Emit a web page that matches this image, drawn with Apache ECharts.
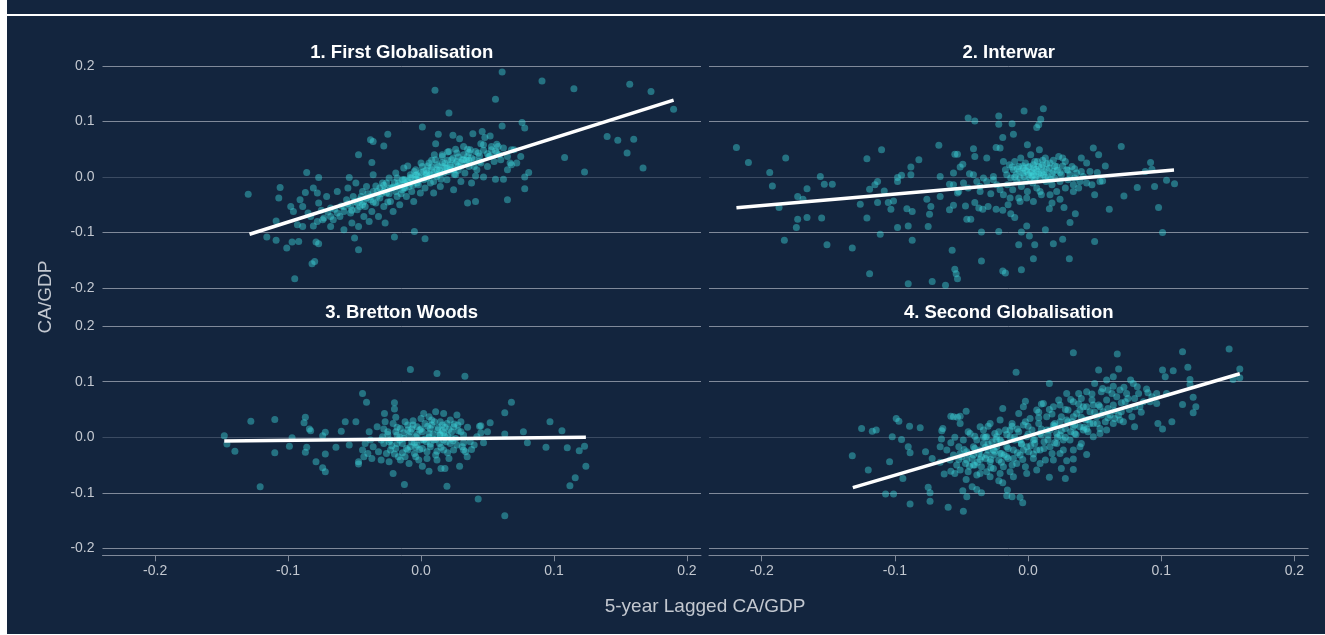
<!DOCTYPE html>
<html>
<head>
<meta charset="utf-8">
<script src="https://cdn.jsdelivr.net/npm/echarts@6/dist/echarts.min.js"></script>
<style>
  html, body { margin: 0; padding: 0; background: #ffffff; }
  #panel { position: absolute; left: 7px; top: 0; width: 1318px; height: 634px; background: #13253e; }
  #rule { position: absolute; left: 7px; top: 14px; width: 1318px; height: 2px; background: #ffffff; }
  #chart { position: absolute; left: 0; top: 0; width: 1325px; height: 635px; }
</style>
</head>
<body>
<div id="panel"></div>
<div id="rule"></div>
<div id="chart"></div>
<script>
// Current account / GDP against its own 5-year lag, by era: [lagged CA/GDP, CA/GDP]
const firstGlobalisation = [
  [-0.130,-0.031],[0.061,0.189],[0.0105,0.156],[0.091,0.173],[0.115,0.159],[0.157,0.167],[0.173,0.154],[0.190,0.122],
  [0.056,0.140],[0.021,0.115],[0.001,0.090],[0.076,0.098],[0.078,0.088],[0.061,0.092],[0.140,0.073],[0.148,0.066],
  [0.160,0.068],[0.155,0.043],[0.108,0.035],[0.123,0.009],[0.167,0.016],[0.081,0.008],[0.078,0.000],[0.078,-0.021],
  [0.065,-0.041],[0.041,-0.044],[0.035,-0.047],[0.003,-0.111],[-0.005,-0.098],[-0.020,-0.108],[-0.047,-0.131],[-0.050,-0.110],
  [-0.077,-0.120],[-0.079,-0.117],[-0.092,-0.116],[-0.097,-0.117],[-0.101,-0.128],[-0.109,-0.114],[-0.116,-0.108],[-0.095,-0.183],
  [-0.082,-0.156],[-0.080,-0.152],[-0.109,-0.079],[-0.107,-0.038],[-0.106,-0.019],[-0.086,0.008],[-0.077,-0.001],[-0.047,0.040],
  [-0.038,0.067],[-0.036,0.064],[-0.028,0.056],[-0.025,0.077],[-0.037,0.026],[-0.054,-0.001],[0.013,0.077],[0.011,0.060],
  [0.024,0.075],[0.029,0.069],[0.046,0.082],[0.052,0.074],[0.048,0.071],[0.039,0.078],[0.057,0.059],[0.062,-0.004],
  [0.056,-0.004],[0.047,0.000],[0.041,0.002],[0.070,0.049],[0.075,0.037],[0.068,0.022],[0.065,0.013],[0.072,0.025],
  [-0.098,-0.053],[-0.096,-0.062],[-0.091,-0.041],[-0.089,-0.053],[-0.087,-0.028],[-0.081,-0.020],[-0.078,-0.029],[-0.077,-0.047],
  [-0.083,-0.071],[-0.093,-0.086],[-0.089,-0.089],[-0.081,-0.088],[-0.074,-0.077],[-0.071,-0.035],[-0.068,-0.056],[-0.068,-0.089],
  [-0.066,-0.077],[-0.063,-0.026],[-0.061,-0.071],[-0.058,-0.095],[-0.058,-0.053],[-0.056,-0.041],[-0.055,-0.020],[-0.053,-0.065],
  [-0.052,-0.083],[-0.049,-0.011],[-0.048,-0.059],[-0.047,-0.089],[-0.046,-0.041],[-0.044,-0.026],[-0.043,-0.071],[-0.042,-0.053],
  [-0.041,-0.017],[-0.039,-0.080],[-0.038,-0.035],[-0.037,-0.062],[-0.036,0.004],[-0.034,-0.047],[-0.033,-0.026],[-0.032,-0.071],
  [-0.031,-0.038],[-0.029,-0.011],[-0.028,-0.053],[-0.027,-0.083],[-0.026,-0.029],[-0.024,-0.002],[-0.023,-0.044],[-0.022,-0.020],
  [-0.021,-0.062],[-0.019,0.007],[-0.018,-0.035],[-0.017,-0.011],[-0.016,-0.050],[-0.014,-0.023],[-0.013,0.016],[-0.012,-0.005],
  [-0.011,-0.035],[-0.009,-0.017],[-0.008,0.004],[-0.007,-0.026],[-0.0055,-0.044],[-0.004,0.013],[-0.003,-0.011],[-0.002,0.001],
  [-0.0005,-0.029],[0.001,0.019],[0.002,-0.005],[0.003,-0.020],[0.0045,0.007],[0.006,0.025],[0.007,-0.011],[0.008,0.013],
  [0.0095,-0.029],[0.011,0.031],[0.012,0.001],[0.013,0.019],[0.0145,-0.017],[0.016,0.037],[0.017,0.007],[0.018,0.025],
  [0.0195,-0.005],[0.021,0.046],[0.022,0.013],[0.023,0.031],[0.0245,-0.023],[0.026,0.004],[0.027,0.043],[0.028,0.019],
  [0.030,-0.008],[0.031,0.031],[0.032,0.055],[0.033,0.007],[0.035,0.037],[0.036,0.019],[0.037,0.049],[0.038,-0.011],
  [0.040,0.031],[0.042,0.013],[0.043,0.043],[0.045,0.025],[0.047,0.058],[0.050,0.019],[0.051,0.037],[0.053,0.049],
  [0.055,0.028],[0.057,0.043],[0.060,0.031],[0.062,0.052],[0.065,0.037],[0.067,0.025],[0.068,0.049],
  [-0.013,-0.005],[-0.008,-0.011],[-0.003,0.004],[0.002,0.010],[0.007,0.004],[0.012,0.013],[0.017,0.019],[0.022,0.022],
  [0.027,0.028],[0.032,0.031],[-0.023,-0.020],[-0.018,-0.017],[-0.028,-0.026],[-0.033,-0.035],[-0.038,-0.041],[-0.043,-0.044],
  [-0.048,-0.047],[-0.053,-0.053],[-0.058,-0.062],[-0.063,-0.065],[-0.068,-0.071],[-0.073,-0.074],[-0.078,-0.080],[-0.007,-0.002],
  [-0.002,-0.014],[0.0045,-0.002],[0.0095,-0.008],[0.0145,0.007],[0.0195,0.016],[0.0245,0.013],[0.030,0.019],[0.035,0.025],
  [0.040,0.019],[-0.018,-0.002],[-0.013,-0.020],[-0.026,-0.011],[-0.031,-0.020],[-0.036,-0.026],[-0.041,-0.038],[-0.046,-0.053],
  [-0.051,-0.035],
  [-0.030,-0.030],[-0.027,-0.022],[-0.024,-0.030],[-0.021,-0.018],[-0.019,-0.026],[-0.016,-0.014],[-0.014,-0.005],[-0.012,-0.020],
  [-0.010,-0.008],[-0.008,-0.001],[-0.006,-0.015],[-0.004,0.003],[-0.002,-0.006],[0.000,0.008],[0.002,-0.002],[0.004,0.012],
  [0.006,0.002],[0.008,0.018],[0.010,0.008],[0.012,0.022],[0.014,0.012],[0.016,0.026],[0.018,0.016],[0.020,0.030],
  [0.022,0.018],[0.024,0.034],[0.026,0.024],[0.028,0.036],[0.030,0.026],[0.032,0.040],[0.034,0.030],[0.036,0.044],
  [0.038,0.034],[0.041,0.046],[0.044,0.038],[0.047,0.048],[0.050,0.042],[0.053,0.055],[0.056,0.047],[0.059,0.040],
  [-0.034,-0.016],[-0.040,-0.030],[-0.045,-0.035],[-0.050,-0.044],[-0.055,-0.048],[-0.060,-0.052],[-0.065,-0.058],[-0.070,-0.063],
  [-0.075,-0.060],[-0.085,-0.065],[0.015,-0.004],[0.025,0.005],[0.005,0.020],[-0.005,0.010],[-0.015,-0.030],[0.035,0.050],
  [0.045,0.060],[0.020,0.045],[0.010,0.040],[-0.025,-0.045],
  [-0.028,-0.015],[-0.020,-0.010],[-0.012,-0.012],[-0.004,-0.004],[0.004,0.004],[0.012,0.004],[0.020,0.010],[0.028,0.012],
  [0.036,0.030],[0.044,0.028],[0.052,0.038],[0.058,0.055],[-0.036,-0.045],[-0.044,-0.050],[-0.052,-0.060],[0.000,0.025],
  [0.008,0.030],[0.016,0.040],[0.026,0.050],[-0.010,0.020]
];

const interwar = [
  [-0.219,0.053],[-0.210,0.026],[-0.194,0.008],[-0.192,-0.016],[-0.187,-0.055],[-0.182,0.034],[-0.183,-0.114],[-0.173,-0.076],
  [-0.174,-0.091],[-0.173,-0.035],[-0.169,-0.040],[-0.166,-0.021],[-0.166,-0.073],[-0.156,0.001],[-0.155,-0.074],[-0.153,-0.013],
  [-0.147,-0.013],[-0.151,-0.122],[-0.132,-0.128],[-0.126,-0.049],[-0.121,0.033],[-0.121,-0.074],[-0.119,-0.174],[-0.119,-0.022],
  [-0.115,-0.014],[-0.113,-0.008],[-0.113,-0.046],[-0.111,-0.103],[-0.110,0.049],[-0.108,-0.025],[-0.105,-0.046],[-0.103,-0.058],
  [-0.101,-0.043],[-0.098,-0.001],[-0.098,-0.008],[-0.098,-0.091],[-0.095,0.003],[-0.091,-0.057],[-0.090,-0.088],[-0.090,-0.192],
  [-0.088,0.018],[-0.088,0.004],[-0.087,-0.062],[-0.087,-0.114],[-0.082,0.031],[-0.076,-0.040],[-0.075,-0.089],[-0.074,-0.067],
  [-0.073,-0.053],[-0.072,-0.188],[-0.067,0.057],[-0.066,0.001],[-0.066,-0.035],[-0.062,-0.195],[-0.059,-0.059],[-0.057,-0.132],
  [-0.056,-0.051],[-0.056,0.007],[-0.055,-0.166],[-0.054,-0.174],[-0.053,-0.183],[-0.059,-0.013],[-0.055,0.041],[-0.053,0.041],
  [-0.051,0.018],[-0.053,-0.029],[-0.049,0.023],[-0.047,-0.052],[-0.046,-0.076],[-0.045,0.106],[-0.044,0.006],[-0.043,-0.076],
  [-0.041,0.051],[-0.040,0.037],[-0.040,0.101],[-0.040,-0.046],[-0.037,-0.056],[-0.036,-0.026],[-0.035,-0.099],[-0.035,-0.151],
  [-0.034,-0.058],[-0.031,0.034],[-0.030,-0.053],[-0.028,-0.030],[-0.026,-0.005],[-0.024,0.053],[-0.024,-0.058],[-0.022,0.110],
  [-0.022,0.095],[-0.022,-0.098],[-0.021,0.052],[-0.019,-0.060],[-0.019,-0.169],[-0.019,0.071],[-0.017,-0.173],[-0.015,-0.050],
  [-0.013,-0.066],[-0.012,0.096],[-0.011,0.077],[-0.010,-0.073],[-0.007,-0.038],[-0.007,-0.122],[-0.005,-0.099],[-0.005,-0.167],
  [-0.003,0.119],[-0.001,-0.088],[-0.0005,0.058],[0.001,-0.106],[0.004,-0.147],[0.005,-0.122],[0.0065,0.089],[0.008,0.094],
  [0.0095,0.104],[0.0115,0.123],[0.013,-0.095],[0.016,-0.057],[0.018,-0.047],[0.019,-0.120],[0.024,-0.040],[0.026,-0.112],
  [0.027,-0.055],[0.031,-0.147],[0.0315,-0.082],[0.0355,-0.066],[0.040,0.034],[0.044,0.025],[0.048,-0.014],[0.049,0.052],
  [0.050,-0.032],[0.050,-0.116],[0.053,0.040],[0.058,0.020],[0.061,-0.058],[0.070,0.055],[0.072,-0.034],[0.082,-0.019],
  [0.088,0.010],[0.092,0.026],[0.095,-0.017],[0.098,-0.055],[0.101,-0.100],[0.104,-0.006],[0.110,-0.012],[0.093,0.014],
  [0.054,-0.008],[0.056,-0.007],[0.052,0.008],
  [-0.0185,0.028],[-0.017,0.013],[-0.016,0.004],[-0.0155,-0.014],[-0.014,0.022],[-0.013,-0.002],[-0.0115,-0.023],[-0.011,0.013],
  [-0.010,0.028],[-0.009,0.004],[-0.0085,-0.008],[-0.007,0.019],[-0.0065,0.010],[-0.006,-0.002],[-0.0055,0.034],[-0.005,-0.017],
  [-0.004,0.007],[-0.0035,0.016],[-0.003,0.001],[-0.002,0.025],[-0.0015,-0.008],[-0.001,0.010],[-0.0005,-0.026],[0.0003,0.004],
  [0.001,0.019],[0.0015,-0.002],[0.002,0.040],[0.003,0.010],[0.0035,-0.011],[0.004,0.004],[0.0045,0.016],[0.005,0.028],
  [0.006,0.001],[0.0065,-0.020],[0.007,0.010],[0.008,0.019],[0.0085,0.049],[0.009,-0.002],[0.010,0.007],[0.010,-0.032],
  [0.011,0.022],[0.0115,0.004],[0.013,0.034],[0.0135,-0.008],[0.014,0.013],[0.015,0.001],[0.0165,0.025],[0.018,-0.014],
  [0.019,0.010],[0.020,-0.002],[0.0215,0.019],[0.023,0.037],[0.024,-0.008],[0.025,0.004],[0.026,0.034],[0.028,-0.020],
  [0.029,0.013],[0.030,-0.005],[0.0315,0.004],[0.033,0.019],[0.034,-0.014],[0.035,-0.002],[0.0365,0.007],[0.039,-0.008],
  [0.0415,0.001],[0.044,-0.011],[0.0465,0.010],[-0.026,0.001],[-0.0235,-0.014],[-0.031,-0.008],[-0.0335,-0.002],[-0.036,-0.017],
  [-0.0385,-0.008],[-0.041,0.004],[-0.045,-0.020],[-0.0485,-0.011],[-0.052,-0.026],[-0.056,-0.014],[-0.021,-0.023],[-0.0185,-0.032],
  [-0.0135,-0.038],[-0.006,-0.044],[-0.001,-0.038],[0.004,-0.044],[0.009,-0.026],[0.0165,-0.032],[0.0215,-0.026],[0.034,-0.026],
  [0.038,-0.020],
  [-0.002,0.012],[0.000,0.018],[0.002,0.008],[0.004,0.022],[0.006,0.014],[0.008,0.006],[0.010,0.018],[0.012,0.010],
  [0.014,0.024],[0.016,0.016],[0.018,0.006],[0.020,0.020],[0.022,0.012],[0.003,0.002],[-0.004,0.020],[-0.008,0.015],
  [0.011,0.030],[0.019,0.030],[0.026,0.020],[0.030,0.012],[0.013,0.000],[0.005,-0.005],[-0.010,0.000],[0.024,0.008],
  [0.007,0.028],[-0.012,0.018],[0.017,-0.004],[0.028,0.028],[0.035,0.015],[0.040,0.010]
];

const brettonWoods = [
  [-0.148,0.003],[-0.146,-0.012],[-0.140,-0.025],[-0.128,0.029],[-0.121,-0.089],[-0.110,0.032],[-0.110,-0.028],[-0.099,-0.016],
  [-0.097,-0.001],[-0.088,0.026],[-0.087,0.036],[-0.086,-0.018],[-0.087,-0.027],[-0.084,0.015],[-0.083,0.012],[-0.079,-0.044],
  [-0.074,-0.055],[-0.072,-0.062],[-0.072,-0.030],[-0.072,0.009],[-0.074,0.003],[-0.064,-0.018],[-0.060,0.011],[-0.057,0.028],
  [-0.054,-0.014],[-0.049,0.028],[-0.047,-0.044],[-0.047,-0.048],[-0.044,0.079],[-0.041,0.063],[-0.039,0.010],[-0.042,-0.011],
  [-0.044,-0.023],[-0.043,-0.035],[-0.040,-0.029],[-0.037,-0.038],[-0.036,-0.017],[-0.033,0.019],[-0.032,-0.026],[-0.030,-0.041],
  [-0.029,0.001],[-0.028,-0.011],[-0.0275,0.043],[-0.027,0.028],[-0.026,-0.029],[-0.025,0.010],[-0.024,-0.044],[-0.023,-0.005],
  [-0.021,-0.065],[-0.021,0.025],[-0.020,0.062],[-0.020,0.051],[-0.019,0.036],[-0.019,-0.020],[-0.018,0.004],[-0.017,-0.035],
  [-0.0155,0.016],[-0.014,-0.011],[-0.013,-0.002],[-0.0125,-0.085],[-0.012,0.028],[-0.010,-0.023],[-0.009,-0.047],[-0.008,0.010],
  [-0.008,0.122],[-0.007,-0.008],[-0.006,0.022],[-0.005,-0.029],[-0.004,0.001],[-0.003,-0.014],[-0.0017,-0.041],[-0.001,0.013],
  [0.000,0.034],[0.001,-0.020],[0.001,-0.052],[0.002,-0.005],[0.003,0.025],[0.0045,-0.038],[0.006,0.007],[0.006,-0.061],
  [0.007,-0.017],[0.008,0.031],[0.0095,-0.005],[0.011,0.046],[0.011,-0.032],[0.012,0.115],[0.0125,0.013],[0.014,-0.011],
  [0.015,-0.056],[0.016,0.022],[0.017,-0.023],[0.018,-0.056],[0.018,0.001],[0.0195,-0.088],[0.0195,0.025],[0.021,-0.038],
  [0.022,-0.011],[0.023,0.010],[0.0245,-0.023],[0.026,-0.002],[0.027,0.040],[0.0277,0.022],[0.029,-0.052],[0.030,0.010],
  [0.030,0.028],[0.031,-0.017],[0.033,0.110],[0.0335,-0.026],[0.035,0.018],[0.037,-0.008],[0.038,-0.022],[0.0347,-0.035],
  [0.043,-0.111],[0.044,0.020],[0.045,0.021],[0.045,0.008],[0.047,-0.010],[0.052,0.026],[0.050,0.010],[0.063,0.006],
  [0.063,0.044],[0.063,-0.141],[0.068,0.063],[0.077,0.010],[0.080,-0.010],[0.094,-0.018],[0.097,0.028],[0.106,0.012],
  [0.110,-0.019],[0.112,-0.087],[0.116,-0.073],[0.119,-0.024],[0.123,-0.016],[0.124,-0.052],[0.042,0.001],[0.040,-0.014],
  [0.032,0.004],[0.0245,0.019],[0.0145,0.004],[0.007,0.016],[-0.003,0.019],[-0.010,0.013],[-0.018,-0.011],[-0.023,-0.023],
  [-0.030,-0.005],[-0.038,-0.005],[-0.008,-0.017],[0.0045,-0.026],[0.017,-0.005],[0.012,-0.041],[-0.004,-0.035],[-0.0155,-0.041],
  [0.022,0.031],[0.032,-0.023],[0.002,0.043],[0.006,0.037],[0.0145,0.028],[0.017,0.043],
  [-0.025,0.005],[-0.022,-0.015],[-0.018,0.018],[-0.016,-0.005],[-0.013,0.008],[-0.011,-0.020],[-0.009,0.002],[-0.007,0.015],
  [-0.005,-0.010],[-0.003,0.005],[-0.001,-0.022],[0.001,0.010],[0.003,-0.003],[0.005,0.020],[0.007,-0.012],[0.009,0.006],
  [0.011,-0.004],[0.013,0.017],[0.015,-0.018],[0.017,0.008],[0.019,-0.008],[0.021,0.014],[0.023,-0.002],[0.025,0.024],
  [0.027,-0.014],[-0.020,-0.030],[-0.006,0.030],[0.010,0.028],[0.020,-0.028],[-0.012,-0.035],
  [-0.024,-0.008],[-0.019,0.010],[-0.014,-0.028],[-0.010,0.022],[-0.004,-0.018],[0.000,0.015],[0.004,-0.008],[0.008,0.022],
  [0.012,-0.025],[0.016,0.012],[0.020,0.003],[0.024,-0.006],[0.028,0.012],[0.032,-0.010],[-0.028,0.015],[0.000,-0.005],
  [0.006,0.000],[0.014,0.005],[-0.016,0.000],[0.018,0.018]
];

const secondGlobalisation = [
  [-0.132,-0.033],[-0.125,0.016],[-0.120,-0.059],[-0.117,0.011],[-0.114,0.013],[-0.107,-0.102],[-0.104,-0.044],[-0.102,0.001],
  [-0.101,-0.102],[-0.099,0.034],[-0.097,0.029],[-0.095,-0.004],[-0.094,-0.074],[-0.090,-0.017],[-0.089,0.020],[-0.0886,-0.028],
  [-0.0886,-0.120],[-0.081,0.017],[-0.077,-0.026],[-0.075,-0.090],[-0.0736,-0.100],[-0.0736,-0.115],[-0.072,-0.038],[-0.066,-0.017],
  [-0.065,-0.003],[-0.0648,0.012],[-0.064,0.016],[-0.066,-0.045],[-0.063,-0.066],[-0.060,-0.126],[-0.058,0.038],[-0.058,-0.061],
  [-0.055,0.000],[-0.053,0.036],[-0.051,0.038],[-0.049,-0.096],[-0.0486,-0.133],[-0.0465,0.047],[-0.0465,-0.076],[-0.042,-0.089],
  [-0.0385,-0.094],[-0.035,-0.100],[-0.022,-0.078],[-0.019,-0.082],[-0.016,-0.105],[-0.0155,-0.095],[-0.012,-0.107],[-0.006,-0.108],
  [-0.004,-0.118],[-0.019,0.052],[-0.009,0.117],[-0.002,0.065],[-0.0035,0.055],[0.016,-0.072],[0.016,0.097],[0.025,-0.056],
  [0.028,-0.074],[0.029,-0.042],[0.034,-0.039],[0.034,-0.058],[0.034,0.152],[0.044,-0.031],[0.053,0.121],[0.067,0.150],
  [0.068,0.123],[0.064,0.109],[0.059,0.103],[0.0716,0.028],[0.077,0.103],[0.080,0.019],[0.082,0.091],[0.089,0.087],
  [0.0975,0.025],[0.101,0.015],[0.103,0.109],[0.101,0.121],[0.108,0.028],[0.109,0.120],[0.116,0.154],[0.116,0.059],
  [0.120,0.126],[0.1216,0.104],[0.124,0.044],[0.124,0.072],[0.126,0.055],[0.1216,0.095],[0.151,0.159],[0.159,0.123],
  [0.159,0.107],[0.154,0.104],[0.0966,0.061],[0.0916,0.064],[0.084,0.055],[0.0966,0.079],[0.104,0.079],[0.093,0.073],
  [-0.061,-0.023],[-0.0586,-0.041],[-0.056,-0.032],[-0.0536,-0.050],[-0.052,-0.017],[-0.051,-0.059],[-0.050,-0.035],[-0.0486,-0.005],
  [-0.047,-0.047],[-0.046,-0.026],[-0.045,-0.062],[-0.0435,0.007],[-0.042,-0.038],[-0.041,-0.017],[-0.040,-0.050],[-0.0385,-0.005],
  [-0.0385,-0.068],[-0.037,-0.029],[-0.036,0.019],[-0.035,-0.053],[-0.0335,-0.011],[-0.032,-0.038],[-0.031,0.001],[-0.031,-0.062],
  [-0.030,-0.023],[-0.0285,-0.044],[-0.0285,0.025],[-0.027,-0.008],[-0.026,-0.032],[-0.026,-0.056],[-0.025,0.007],[-0.0235,-0.017],
  [-0.022,-0.041],[-0.021,0.031],[-0.021,-0.005],[-0.020,-0.029],[-0.0185,-0.053],[-0.017,0.013],[-0.016,-0.017],[-0.015,-0.038],
  [-0.0135,0.001],[-0.0135,-0.062],[-0.012,0.025],[-0.011,-0.023],[-0.010,-0.005],[-0.0085,-0.047],[-0.007,0.043],[-0.007,0.010],
  [-0.006,-0.032],[-0.005,-0.011],[-0.0035,0.022],[-0.002,-0.053],[-0.001,0.001],[0.0003,-0.026],[0.0015,0.034],[0.003,0.013],
  [0.004,-0.038],[0.005,-0.011],[0.0065,0.049],[0.0065,-0.059],[0.008,0.025],[0.009,-0.023],[0.010,0.004],[0.0115,0.061],
  [0.013,-0.041],[0.014,0.037],[0.015,-0.005],[0.0165,0.013],[0.018,-0.029],[0.019,0.055],[0.020,0.025],[0.0215,-0.011],
  [0.023,0.067],[0.024,0.004],[0.025,0.037],[0.0265,-0.023],[0.028,0.016],[0.029,0.079],[0.030,0.049],[0.0315,-0.005],
  [0.033,0.028],[0.034,0.064],[0.035,0.007],[0.0365,0.043],[0.038,0.079],[0.039,0.019],[0.040,-0.011],[0.0415,0.055],
  [0.043,0.031],[0.044,0.082],[0.045,0.010],[0.0465,0.046],[0.048,0.067],[0.049,0.025],[0.050,0.097],[0.0515,0.037],
  [0.053,0.058],[0.054,0.016],[0.055,0.082],[0.0565,0.046],[0.058,0.028],[0.059,0.067],[0.060,0.085],[0.0616,0.040],
  [0.063,0.079],[0.064,0.058],[0.065,0.034],[0.0666,0.073],[0.069,0.085],[0.070,0.046],[0.073,0.064],[0.074,0.079],
  [0.078,0.037],[0.079,0.097],[0.080,0.055],[0.083,0.079],[0.0866,0.064],
  [-0.011,-0.038],[-0.006,-0.005],[-0.001,-0.017],[0.004,-0.005],[0.009,0.007],[0.014,0.013],[0.019,0.022],[0.024,0.028],
  [0.029,0.031],[0.034,0.037],[0.039,0.049],[0.044,0.055],[0.049,0.058],[0.054,0.055],[-0.016,-0.035],[-0.021,-0.029],
  [-0.026,-0.023],[-0.031,-0.032],[-0.036,-0.023],[-0.041,-0.032],[-0.046,-0.041],[-0.051,-0.029],[-0.0335,0.001],[-0.0235,0.001],
  [-0.0135,0.013],[-0.0035,-0.023],[0.0065,-0.023],[0.0165,-0.017],[0.0215,0.007],[0.0265,-0.005],[0.034,0.019],[0.0415,0.013],
  [0.0465,0.025],[-0.041,-0.050],[-0.036,-0.065],[-0.0285,-0.071],[-0.021,-0.065],[-0.011,-0.071],[-0.001,-0.065],[0.009,-0.047],
  [0.019,-0.041],[0.024,-0.029],[0.034,-0.023],[0.039,-0.017],[0.049,0.001],[0.054,0.007],[0.059,0.013],[0.064,0.025],
  [0.069,0.031],[-0.056,0.037],[-0.055,-0.065],[-0.046,-0.107],[-0.0335,0.013],[-0.051,0.025],
  [-0.045,-0.030],[-0.040,-0.020],[-0.035,-0.035],[-0.030,-0.012],[-0.025,-0.025],[-0.020,-0.008],[-0.015,-0.020],[-0.010,0.000],
  [-0.005,-0.012],[0.000,0.006],[0.005,-0.004],[0.010,0.015],[0.015,0.004],[0.020,0.020],[0.025,0.012],[0.030,0.028],
  [0.035,0.022],[0.040,0.036],[0.045,0.032],[0.050,0.045],[0.055,0.040],[0.060,0.052],[0.065,0.048],[-0.038,-0.045],
  [-0.028,-0.040],[-0.018,-0.032],[-0.008,-0.028],[0.002,-0.015],[0.012,-0.008],[0.022,0.000],[0.032,0.010],[0.042,0.018],
  [-0.032,0.000],[-0.022,0.010],[-0.012,0.020],[-0.002,0.028],[0.008,0.035],[0.018,0.042],[0.028,0.050],[0.038,0.060],
  [0.070,0.062],[0.075,0.070],
  [-0.058,-0.010],[-0.052,-0.040],[-0.048,-0.022],[-0.044,-0.052],[-0.040,0.002],[-0.036,-0.040],[-0.032,-0.018],[-0.028,-0.055],
  [-0.024,-0.004],[-0.020,-0.045],[-0.016,0.005],[-0.012,-0.050],[-0.008,0.015],[-0.004,-0.040],[0.000,0.020],[0.004,-0.030],
  [0.008,0.045],[0.012,-0.020],[0.016,0.050],[0.020,-0.010],[0.024,0.058],[0.028,0.000],[0.032,0.068],[0.036,0.005],
  [0.040,0.070],[0.044,0.015],[0.048,0.078],[0.052,0.025],[0.056,0.088],[0.060,0.035],[0.064,0.092],[0.068,0.040],
  [0.072,0.090],[0.076,0.050],[0.080,0.070],[0.085,0.045],[0.090,0.080],[-0.045,0.010],[-0.030,0.020],[0.010,0.060]
];

// Fitted regression line end points for each era
const fitFirst = [[-0.129,-0.103],[0.190,0.1385]];
const fitInterwar = [[-0.219,-0.0552],[0.1096,0.0126]];
const fitBretton = [[-0.148,-0.0067],[0.124,0.000]];
const fitSecond = [[-0.1316,-0.0906],[0.159,0.1144]];

const panelTitles = ['1. First Globalisation', '2. Interwar', '3. Bretton Woods', '4. Second Globalisation'];
const tickValues = [-0.2, -0.1, 0, 0.1, 0.2];
const xTitle = '5-year Lagged CA/GDP';
const yTitle = 'CA/GDP';

const panels = [firstGlobalisation, interwar, brettonWoods, secondGlobalisation];
const fits = [fitFirst, fitInterwar, fitBretton, fitSecond];

const FONT = '"Liberation Sans", Arial, Helvetica, sans-serif';
const GRID_COLOR = '#808a9a';
const ZERO_COLOR = '#3b4b62';
const LABEL_COLOR = '#c3c8d0';

const gridBoxes = [
  { left: 102.5, top: 59, width: 598.5, height: 236 },
  { left: 709, top: 59, width: 599.5, height: 236 },
  { left: 102.5, top: 319.3, width: 598.5, height: 236 },
  { left: 709, top: 319.3, width: 599.5, height: 236 }
];

const fmt = v => (Math.abs(v) < 1e-9 ? 0 : v).toFixed(1);

const option = {
  animation: false,
  backgroundColor: 'transparent',
  textStyle: { fontFamily: FONT },
  grid: gridBoxes.map(g => Object.assign({ containLabel: false, outerBoundsMode: 'none' }, g)),
  xAxis: gridBoxes.map((g, i) => {
    const bottomRow = i >= 2;
    return {
      type: 'value', gridIndex: i, min: -0.2396, max: 0.2106,
      axisLine: { show: bottomRow, onZero: false, lineStyle: { color: GRID_COLOR, width: 1 } },
      axisTick: { show: bottomRow, customValues: tickValues, length: 6, lineStyle: { color: GRID_COLOR } },
      axisLabel: { show: bottomRow, customValues: tickValues, formatter: fmt, color: LABEL_COLOR,
                   fontSize: 14, fontFamily: FONT, margin: 9 },
      splitLine: { show: false }
    };
  }),
  yAxis: gridBoxes.map((g, i) => {
    const leftCol = i % 2 === 0;
    return {
      type: 'value', gridIndex: i, min: -0.2124, max: 0.2124,
      axisLine: { show: false },
      axisTick: { show: false, customValues: tickValues },
      axisLabel: { show: leftCol, customValues: tickValues, formatter: fmt, color: LABEL_COLOR,
                   fontSize: 14, fontFamily: FONT, margin: 8 },
      splitLine: { show: true, lineStyle: { color: [GRID_COLOR, GRID_COLOR, ZERO_COLOR, GRID_COLOR, GRID_COLOR], width: 1 } }
    };
  }),
  series: [
    ...panels.map((data, i) => ({
      type: 'scatter', xAxisIndex: i, yAxisIndex: i, data: data,
      symbolSize: 7,
      itemStyle: { color: 'rgba(62,214,218,0.55)' },
      emphasis: { disabled: true },
      z: 2
    })),
    ...fits.map((data, i) => ({
      type: 'line', xAxisIndex: i, yAxisIndex: i, data: data,
      showSymbol: false, symbol: 'none',
      lineStyle: { color: '#ffffff', width: 3.5 },
      emphasis: { disabled: true },
      z: 3
    }))
  ],
  graphic: [
    ...panelTitles.map((t, i) => ({
      type: 'text',
      x: gridBoxes[i].left + gridBoxes[i].width / 2,
      y: gridBoxes[i].top - 6.5,
      style: { text: t, fill: '#ffffff', font: 'bold 18.5px ' + FONT, align: 'center', verticalAlign: 'middle' }
    })),
    {
      type: 'text', x: 705, y: 607,
      style: { text: xTitle, fill: LABEL_COLOR, font: '19px ' + FONT, align: 'center', verticalAlign: 'middle' }
    },
    {
      type: 'text', x: 46, y: 297, rotation: Math.PI / 2,
      style: { text: yTitle, fill: LABEL_COLOR, font: '19px ' + FONT, align: 'center', verticalAlign: 'middle' }
    }
  ]
};

const chart = echarts.init(document.getElementById('chart'), null, { renderer: 'canvas' });
chart.setOption(option);
</script>
</body>
</html>
